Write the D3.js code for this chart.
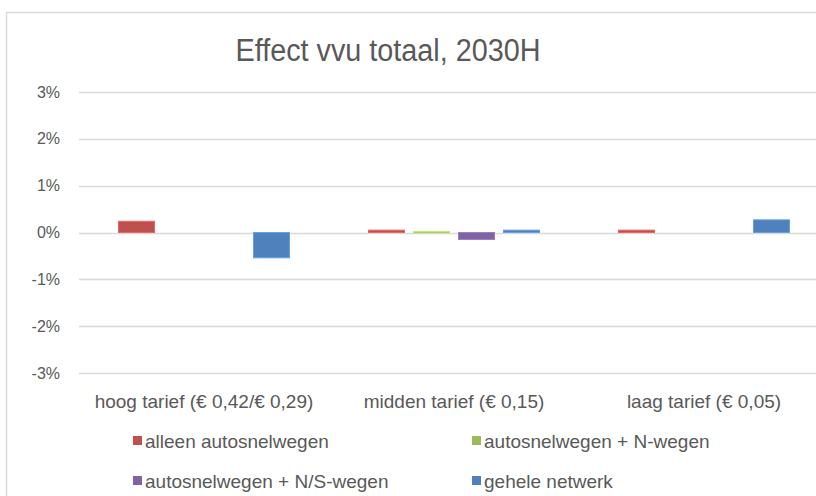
<!DOCTYPE html>
<html>
<head>
<meta charset="utf-8">
<script src="https://cdn.jsdelivr.net/npm/d3@7"></script>
<style>
  body { margin: 0; background: #fff; }
  svg { display: block; font-family: "Liberation Sans", Arial, sans-serif; }
</style>
</head>
<body>
<svg id="chart" width="816" height="496"></svg>
<script>
// data (% change)
const categories = ["hoog tarief (€ 0,42/€ 0,29)", "midden tarief (€ 0,15)", "laag tarief (€ 0,05)"];
const seriesNames = ["alleen autosnelwegen", "autosnelwegen + N-wegen", "autosnelwegen + N/S-wegen", "gehele netwerk"];
const alleenAutosnelwegen = [0.24, 0.05, 0.05];
const autosnelwegenNwegen = [0.00, 0.02, 0.00];
const autosnelwegenNSwegen = [0.00, -0.15, 0.00];
const geheleNetwerk = [-0.54, 0.05, 0.27];
const yTicks = [-3, -2, -1, 0, 1, 2, 3];
const colors = ["#c0504d", "#9bbb59", "#8064a2", "#4f81bd"];

const seriesValues = [alleenAutosnelwegen, autosnelwegenNwegen, autosnelwegenNSwegen, geheleNetwerk];

const svg = d3.select("#chart");

// outer chart border (right/bottom fall outside the crop)
svg.append("rect")
  .attr("x", 6.5).attr("y", 12.5)
  .attr("width", 830).attr("height", 520)
  .attr("fill", "none").attr("stroke", "#d9d9d9").attr("stroke-width", 1.5);

// title
svg.append("text")
  .attr("x", 388).attr("y", 61)
  .attr("text-anchor", "middle")
  .attr("font-size", "31px")
  .attr("textLength", 305)
  .attr("lengthAdjust", "spacingAndGlyphs")
  .attr("fill", "#595959")
  .text("Effect vvu totaal, 2030H");

const x0 = d3.scaleBand()
  .domain(categories)
  .range([79, 829]);

const x1 = d3.scaleBand()
  .domain(seriesNames)
  .range([x0.bandwidth() * 0.158, x0.bandwidth() * 0.842])
  .paddingInner(0.2);

const y = d3.scaleLinear()
  .domain([-3, 3])
  .range([373, 92]);

// gridlines
svg.append("g")
  .selectAll("line")
  .data(yTicks)
  .join("line")
  .attr("x1", 79).attr("x2", 829)
  .attr("y1", d => Math.round(y(d)) + 0.5)
  .attr("y2", d => Math.round(y(d)) + 0.5)
  .attr("stroke", "#d9d9d9")
  .attr("stroke-width", 1.5);

// y labels
svg.append("g")
  .selectAll("text")
  .data(yTicks)
  .join("text")
  .attr("x", 60)
  .attr("y", d => y(d))
  .attr("dy", "0.35em")
  .attr("text-anchor", "end")
  .attr("font-size", "16px")
  .attr("fill", "#595959")
  .text(d => d + "%");

// bars
const groups = svg.append("g")
  .selectAll("g")
  .data(categories)
  .join("g")
  .attr("transform", d => `translate(${x0(d)},0)`);

groups.selectAll("rect")
  .data((c, i) => seriesNames.map((s, j) => ({ series: s, value: seriesValues[j][i], color: colors[j] })))
  .join("rect")
  .filter(d => d.value !== 0)
  .attr("x", d => x1(d.series))
  .attr("y", d => y(Math.max(0, d.value)))
  .attr("width", x1.bandwidth())
  .attr("height", d => Math.max(1.5, Math.abs(y(d.value) - y(0))))
  .attr("fill", d => d.color)
  .attr("stroke", d => d3.color(d.color).brighter(0.6))
  .attr("stroke-width", 1);

// category labels
svg.append("g")
  .selectAll("text")
  .data(categories)
  .join("text")
  .attr("x", d => x0(d) + x0.bandwidth() / 2)
  .attr("y", 408)
  .attr("text-anchor", "middle")
  .attr("font-size", "19px")
  .attr("fill", "#595959")
  .text(d => d);

// legend
const legendPos = [[133, 441], [472, 441], [133, 481], [472, 481]];
const legend = svg.append("g")
  .selectAll("g")
  .data(seriesNames)
  .join("g")
  .attr("transform", (d, i) => `translate(${legendPos[i][0]},${legendPos[i][1]})`);

legend.append("rect")
  .attr("x", 0).attr("y", -5)
  .attr("width", 9).attr("height", 9)
  .attr("fill", (d, i) => colors[i]);

legend.append("text")
  .attr("x", 12)
  .attr("y", 0)
  .attr("dy", "0.35em")
  .attr("font-size", "19px")
  .attr("fill", "#595959")
  .text(d => d);
</script>
</body>
</html>
